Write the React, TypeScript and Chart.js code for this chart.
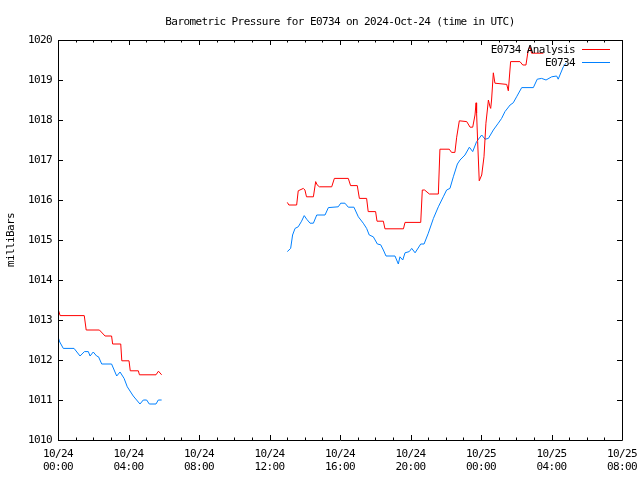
import React, { useEffect, useRef } from "react";
import { Chart, registerables } from "chart.js";

Chart.register(...registerables);

const TITLE = "Barometric Pressure for E0734 on 2024-Oct-24 (time in UTC)";
const Y_LABEL = "milliBars";
const SERIES_NAMES = ["E0734 Analysis", "E0734"];
const SERIES_COLORS = ["#ff0000", "#0080ff"];

// x tick labels every 4 hours starting 2024-10-24 00:00 UTC
const X_TICK_LABELS = [
  ["10/24", "00:00"],
  ["10/24", "04:00"],
  ["10/24", "08:00"],
  ["10/24", "12:00"],
  ["10/24", "16:00"],
  ["10/24", "20:00"],
  ["10/25", "00:00"],
  ["10/25", "04:00"],
  ["10/25", "08:00"],
];

// hours since 10/24 00:00 UTC (null = gap)
const analysisHours = [
  0.0, 0.12, 1.49, 1.6, 2.35, 2.67, 3.04, 3.1, 3.56, 3.62, 4.03, 4.1, 4.56, 4.62, 5.56, 5.7, 5.88,
  9.0,
  13.01, 13.1, 13.54, 13.63, 13.92, 14.01, 14.1, 14.49, 14.62, 14.7, 14.83, 15.53, 15.68, 16.47, 16.6,
  16.98, 17.1, 17.51, 17.6, 18.02, 18.1, 18.46, 18.55, 19.6, 19.69, 20.58, 20.67, 20.8, 21.07, 21.58,
  21.67, 22.2, 22.33, 22.52, 22.62, 22.77, 23.19, 23.38, 23.53, 23.66, 23.72, 23.75, 23.81, 23.9,
  24.04, 24.17, 24.28, 24.36, 24.42, 24.51, 24.55, 24.6, 24.7, 24.79, 25.46, 25.55, 25.68, 26.21,
  26.37, 26.55, 26.68, 26.78, 26.87, 27.54,
];
const analysisValues = [
  1013.28, 1013.11, 1013.11, 1012.75, 1012.75, 1012.6, 1012.6, 1012.4, 1012.4, 1011.98, 1011.98,
  1011.73, 1011.73, 1011.63, 1011.63, 1011.72, 1011.63,
  null,
  1015.94, 1015.875, 1015.875, 1016.23, 1016.29, 1016.25, 1016.08, 1016.08, 1016.46, 1016.38,
  1016.33, 1016.33, 1016.54, 1016.54, 1016.36, 1016.36, 1016.04, 1016.04, 1015.71, 1015.71, 1015.47,
  1015.47, 1015.28, 1015.28, 1015.44, 1015.44, 1016.25, 1016.25, 1016.15, 1016.15, 1017.27, 1017.27,
  1017.19, 1017.19, 1017.57, 1017.98, 1017.96, 1017.82, 1017.82, 1018.125, 1018.43, 1018.17, 1017.46,
  1016.48, 1016.625, 1017.08, 1017.92, 1018.25, 1018.5, 1018.33, 1018.29, 1018.5, 1019.18, 1018.92,
  1018.89, 1018.73, 1019.46, 1019.46, 1019.375, 1019.375, 1019.75, 1019.83, 1019.67, 1019.67,
];

const stationHours = [
  0.0, 0.1, 0.3, 0.91, 1.25, 1.5, 1.72, 1.82, 2.0, 2.19, 2.3, 2.48, 3.04, 3.33, 3.52, 3.75, 3.93,
  4.27, 4.65, 4.84, 5.03, 5.18, 5.56, 5.69, 5.88,
  9.0,
  13.01, 13.2, 13.31, 13.45, 13.63, 13.82, 13.97, 14.11, 14.3, 14.49, 14.68, 15.15, 15.34, 15.9,
  16.04, 16.28, 16.47, 16.79, 17.04, 17.32, 17.51, 17.66, 17.89, 18.12, 18.31, 18.46, 18.61, 19.12,
  19.31, 19.4, 19.56, 19.69, 19.93, 20.07, 20.26, 20.58, 20.77, 21.01, 21.3, 21.58, 21.86, 22.05,
  22.24, 22.43, 22.66, 22.81, 23.09, 23.34, 23.53, 23.75, 24.04, 24.23, 24.42, 24.7, 24.98, 25.17,
  25.36, 25.65, 25.83, 26.02, 26.31, 26.97, 27.19, 27.44, 27.69, 28.01, 28.29, 28.38, 28.67, 28.82,
];
const stationValues = [
  1012.58, 1012.45, 1012.29, 1012.29, 1012.1, 1012.21, 1012.21, 1012.1, 1012.2, 1012.1, 1012.08,
  1011.9, 1011.9, 1011.6, 1011.7, 1011.54, 1011.33, 1011.1, 1010.9, 1011.0, 1011.0, 1010.9, 1010.9,
  1011.0, 1011.0,
  null,
  1014.71, 1014.79, 1015.125, 1015.29, 1015.33, 1015.47, 1015.61, 1015.52, 1015.42, 1015.42,
  1015.625, 1015.625, 1015.81, 1015.83, 1015.92, 1015.92, 1015.82, 1015.82, 1015.58, 1015.42,
  1015.29, 1015.125, 1015.08, 1014.9, 1014.88, 1014.75, 1014.6, 1014.6, 1014.4, 1014.58, 1014.5,
  1014.68, 1014.71, 1014.79, 1014.68, 1014.9, 1014.9, 1015.17, 1015.54, 1015.83, 1016.08, 1016.25,
  1016.29, 1016.58, 1016.9, 1017.0, 1017.125, 1017.32, 1017.21, 1017.46, 1017.625, 1017.52, 1017.54,
  1017.75, 1017.92, 1018.04, 1018.21, 1018.375, 1018.43, 1018.58, 1018.81, 1018.81, 1019.02,
  1019.04, 1019.0, 1019.08, 1019.1, 1019.02, 1019.33, 1019.42,
];

const X_MIN = 0;
const X_MAX = 32;
const Y_MIN = 1010;
const Y_MAX = 1020;

const FONT = "'DejaVu Sans Mono', monospace";
const FONT_SIZE = 11;
const LETTER_SPACING = "-0.6px";

const gnuplotFrame = {
  id: "gnuplotFrame",
  beforeDraw(chart: any) {
    (chart.ctx as any).letterSpacing = LETTER_SPACING;
  },
  afterDraw(chart: any) {
    const ctx = chart.ctx;
    const { left, right, top, bottom } = chart.chartArea;
    const xs = chart.scales.x;
    const ys = chart.scales.y;
    ctx.save();
    ctx.strokeStyle = "#000";
    ctx.lineWidth = 1;
    ctx.beginPath();
    ctx.rect(Math.round(left) + 0.5, Math.round(top) + 0.5, Math.round(right - left), Math.round(bottom - top));
    ctx.stroke();
    // x ticks, major every 4h, minor every hour, mirrored
    ctx.beginPath();
    for (let h = X_MIN; h <= X_MAX; h++) {
      const px = Math.round(xs.getPixelForValue(h)) + 0.5;
      const len = h % 4 === 0 ? 5 : 2.5;
      ctx.moveTo(px, bottom);
      ctx.lineTo(px, bottom - len);
      ctx.moveTo(px, top);
      ctx.lineTo(px, top + len);
    }
    for (let v = Y_MIN; v <= Y_MAX; v++) {
      const py = Math.round(ys.getPixelForValue(v)) + 0.5;
      ctx.moveTo(left, py);
      ctx.lineTo(left + 5, py);
      ctx.moveTo(right, py);
      ctx.lineTo(right - 5, py);
    }
    ctx.stroke();

    ctx.fillStyle = "#000";
    ctx.font = `${FONT_SIZE}px ${FONT}`;
    (ctx as any).letterSpacing = LETTER_SPACING;
    // title
    ctx.textAlign = "center";
    ctx.textBaseline = "alphabetic";
    ctx.fillText(TITLE, (left + right) / 2, 25);
    // y axis label
    ctx.save();
    ctx.translate(14, (top + bottom) / 2);
    ctx.rotate(-Math.PI / 2);
    ctx.textAlign = "center";
    ctx.textBaseline = "alphabetic";
    ctx.fillText(Y_LABEL, 0, 0);
    ctx.restore();
    // legend (gnuplot style: text then sample line)
    const legendYs = [50, 63];
    SERIES_NAMES.forEach((name, i) => {
      const y = legendYs[i];
      ctx.textAlign = "right";
      ctx.textBaseline = "middle";
      ctx.fillStyle = "#000";
      ctx.fillText(name, 575, y);
      ctx.strokeStyle = SERIES_COLORS[i];
      ctx.beginPath();
      ctx.moveTo(582, y - 0.5);
      ctx.lineTo(610, y - 0.5);
      ctx.stroke();
    });
    ctx.restore();
  },
};

function toPoints(hours: number[], values: (number | null)[]) {
  return hours.map((h, i) => ({ x: h, y: values[i] }));
}

export default function App() {
  const ref = useRef<HTMLCanvasElement>(null);
  useEffect(() => {
    if (!ref.current) return;
    Chart.defaults.font.family = FONT;
    Chart.defaults.font.size = FONT_SIZE;
    Chart.defaults.color = "#000";
    const chart = new Chart(ref.current, {
      type: "line",
      data: {
        datasets: [
          {
            label: SERIES_NAMES[0],
            data: toPoints(analysisHours, analysisValues) as any,
            borderColor: SERIES_COLORS[0],
            borderWidth: 1,
            pointRadius: 0,
            tension: 0,
            spanGaps: false,
          },
          {
            label: SERIES_NAMES[1],
            data: toPoints(stationHours, stationValues) as any,
            borderColor: SERIES_COLORS[1],
            borderWidth: 1,
            pointRadius: 0,
            tension: 0,
            spanGaps: false,
          },
        ],
      },
      options: {
        animation: false,
        responsive: false,
        events: [],
        layout: { padding: { top: 40, right: 18, left: 0, bottom: 0 } },
        plugins: {
          legend: { display: false },
          title: { display: false },
          tooltip: { enabled: false },
        },
        scales: {
          x: {
            type: "linear",
            min: X_MIN,
            max: X_MAX,
            offset: false,
            grid: { display: false, drawTicks: false },
            border: { display: false },
            ticks: {
              stepSize: 4,
              autoSkip: false,
              maxRotation: 0,
              minRotation: 0,
              padding: 8,
              font: { family: FONT, size: FONT_SIZE, lineHeight: "13px" },
              color: "#000",
              callback: (v: any) => X_TICK_LABELS[Math.round(Number(v) / 4)] as any,
            },
            afterFit: (s: any) => {
              s.height = 40;
              s.paddingLeft = 0;
              s.paddingRight = 0;
            },
          },
          y: {
            type: "linear",
            min: Y_MIN,
            max: Y_MAX,
            grid: { display: false, drawTicks: false },
            border: { display: false },
            ticks: {
              stepSize: 1,
              padding: 6,
              font: { family: FONT, size: FONT_SIZE },
              color: "#000",
              callback: (v: any) => String(v),
            },
            afterFit: (s: any) => {
              s.width = 58;
              s.paddingTop = 0;
              s.paddingBottom = 0;
            },
          },
        },
      },
      plugins: [gnuplotFrame],
    });
    return () => chart.destroy();
  }, []);
  return (
    <div style={{ position: "absolute", left: 0, top: 0, width: 640, height: 480, background: "#fff" }}>
      <canvas ref={ref} width={640} height={480} style={{ display: "block" }} />
    </div>
  );
}
